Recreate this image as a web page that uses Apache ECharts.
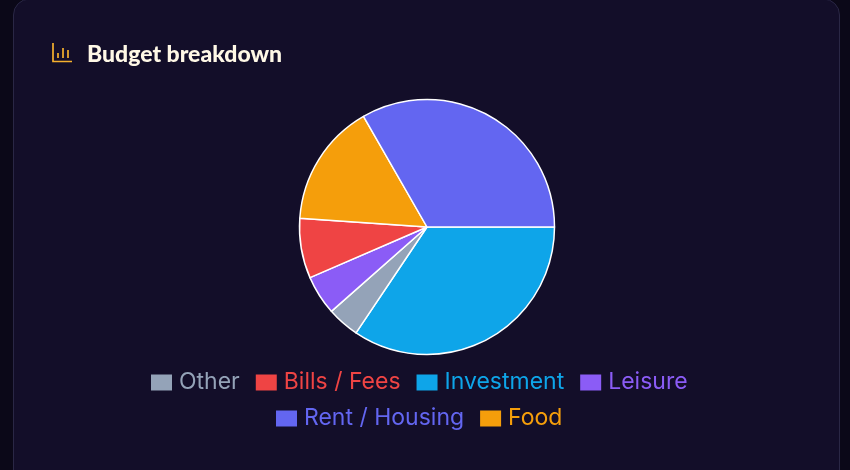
<!DOCTYPE html>
<html><head><meta charset="utf-8">
<style>html,body{margin:0;padding:0;background:#0b0818}#c{width:850px;height:470px}</style>
<script src="https://cdn.jsdelivr.net/npm/echarts@6/dist/echarts.min.js"></script>
</head><body><div id="c"></div>
<script>
const titleText = "Budget breakdown";
const sliceNames = ["Investment","Other","Leisure","Bills / Fees","Food","Rent / Housing"];
const sliceValues = [34.4,4.1,5.0,7.6,15.6,33.3];
const sliceColors = ["#0ea5e9","#94a3b8","#8b5cf6","#ef4444","#f59e0b","#6366f1"];
const legendRowOne = ["Other","Bills / Fees","Investment","Leisure"];
const legendRowTwo = ["Rent / Housing","Food"];
const chart = echarts.init(document.getElementById('c'),null,{renderer:'canvas'});
const icon='#f5b02e';
const legendBase={orient:'horizontal',padding:0,icon:'rect',itemWidth:21,itemHeight:16,itemGap:16,
  itemStyle:{borderWidth:0},
  textStyle:{color:'inherit',fontFamily:'Inter',fontSize:23,padding:[-3,0,0,2],lineHeight:24}};
chart.setOption({
  animation:false,
  backgroundColor:'#0b0818',
  title:{text:titleText,left:87,top:43,padding:0,itemGap:0,textStyle:{color:'#fff8e6',fontFamily:'Lato',fontWeight:900,fontSize:23}},
  legend:[
    Object.assign({},legendBase,{data:legendRowOne,left:151,top:371}),
    Object.assign({},legendBase,{data:legendRowTwo,left:276,top:407})
  ],
  graphic:[
    {type:'rect',z:-10,shape:{x:13.5,y:-1,width:826,height:520,r:16},style:{fill:'#130e29',stroke:'#2a2745',lineWidth:1}},
    {type:'polyline',z:1,shape:{points:[[53,43],[53,61.5],[72,61.5]]},style:{fill:null,stroke:icon,lineWidth:1.7}},
    {type:'line',z:1,shape:{x1:58,y1:53,x2:58,y2:58},style:{stroke:icon,lineWidth:1.7}},
    {type:'line',z:1,shape:{x1:63,y1:48,x2:63,y2:58},style:{stroke:icon,lineWidth:1.7}},
    {type:'line',z:1,shape:{x1:68,y1:50,x2:68,y2:58},style:{stroke:icon,lineWidth:1.7}}
  ],
  series:[{type:'pie',center:[427,227],radius:[0,127.5],startAngle:0,clockwise:true,
    label:{show:false},labelLine:{show:false},emphasis:{scale:false},
    itemStyle:{borderColor:'#fff',borderWidth:1.5},
    data:sliceNames.map((n,i)=>({name:n,value:sliceValues[i],itemStyle:{color:sliceColors[i]}}))}]
});
</script></body></html>
